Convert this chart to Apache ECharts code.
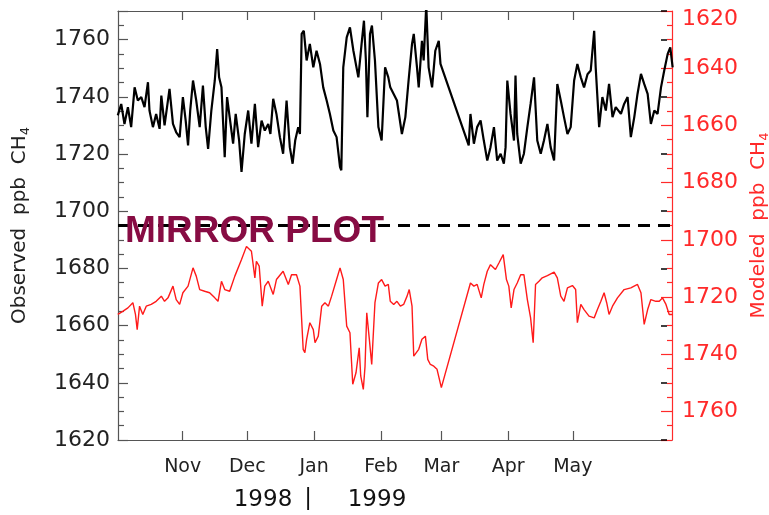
<!DOCTYPE html>
<html>
<head>
<meta charset="utf-8">
<script src="https://cdn.jsdelivr.net/npm/echarts@6/dist/echarts.min.js"></script>
<style>
  body { margin: 0; background: #fff; }
  #mirror-chart { width: 769px; height: 515px; }
</style>
</head>
<body>
<div id="mirror-chart"></div>
<script>
// x = days since 1 Oct 1998
const monthDays = [31, 61, 92, 123, 151, 182, 212]
const monthNames = ['Nov', 'Dec', 'Jan', 'Feb', 'Mar', 'Apr', 'May']

// observed CH4 (left axis, ppb)
const obsDays = [0.9, 2.5, 4.0, 5.6, 7.1, 8.7, 10.2, 11.8, 13.3, 14.9, 15.6, 17.2, 18.7, 20.3, 21.1, 22.6, 24.9, 26.5, 28.0, 29.6,
  31.1, 32.4, 33.5, 34.5, 35.8, 37.3, 38.9, 40.4, 41.7, 42.8, 44.3, 45.9, 47.0, 47.9, 49.0, 50.5, 51.6, 52.8, 54.4, 55.6,
  57.2, 58.3, 59.8, 61.4, 62.9, 64.5, 66.0, 67.6, 69.1, 70.7, 71.7, 73.0, 74.5, 76.1, 77.6, 79.2, 80.7, 82.0, 83.2, 84.6,
  85.4, 86.2, 87.2, 88.5, 90.0, 91.6, 93.1, 94.7, 96.2, 97.8, 99.3, 100.9, 102.4, 104.0, 104.6, 105.5, 107.1, 108.6, 110.2, 112.5,
  114.0, 115.1, 116.0, 116.7, 117.9, 118.8, 120.2, 121.8, 123.3, 124.9, 126.4, 127.3, 130.4, 132.7, 134.3, 135.8, 137.4, 138.2, 139.7, 140.5,
  142.0, 142.8, 144.0, 145.1, 146.7, 148.2, 149.8, 150.6, 163.7, 164.5, 166.1, 167.6, 169.2, 170.7, 172.3, 173.8, 175.4, 176.9, 178.5, 180.0,
  180.8, 181.6, 183.1, 184.7, 185.4, 186.2, 187.8, 189.3, 190.9, 192.4, 194.0, 195.5, 197.1, 198.6, 200.2, 201.7, 203.3, 204.8, 206.4, 207.9,
  209.5, 211.0, 212.6, 214.1, 215.7, 217.2, 218.8, 220.3, 221.9, 222.6, 224.2, 225.7, 227.3, 228.8, 230.4, 231.9, 234.3, 235.8, 237.4, 238.9,
  240.5, 242.0, 243.6, 245.1, 246.7, 248.2, 249.8, 251.3, 252.9, 254.4, 256.0, 257.2, 258.3]
const obsPpb = [1733.5, 1737.5, 1730.5, 1736.4, 1729.4, 1743.3, 1738.7, 1739.9, 1736.4, 1745.1, 1735.2, 1729.4, 1734.0, 1728.8, 1740.4, 1730.0, 1742.8, 1730.5, 1727.6, 1725.9,
  1739.9, 1731.7, 1723.0, 1735.2, 1745.7, 1738.7, 1729.4, 1743.9, 1729.4, 1721.8, 1735.2, 1745.7, 1756.7, 1746.8, 1743.3, 1718.9, 1739.9, 1732.9, 1723.6, 1734.0,
  1724.7, 1713.7, 1727.0, 1735.2, 1723.6, 1737.5, 1722.4, 1731.7, 1728.2, 1730.5, 1727.0, 1739.3, 1734.0, 1725.9, 1720.1, 1738.7, 1722.4, 1716.6, 1724.7, 1729.4,
  1727.0, 1762.0, 1763.1, 1752.7, 1758.5, 1750.3, 1756.1, 1751.5, 1743.3, 1738.7, 1734.0, 1728.2, 1725.9, 1715.4, 1714.3, 1750.3, 1760.8, 1764.3, 1756.1, 1746.8,
  1758.5, 1766.6, 1752.7, 1732.9, 1762.0, 1764.9, 1752.7, 1729.4, 1724.7, 1750.3, 1746.8, 1743.3, 1738.7, 1727.0, 1732.9, 1745.7, 1758.5, 1762.0, 1750.3, 1743.3,
  1759.6, 1752.7, 1772.0, 1750.3, 1743.3, 1756.1, 1759.6, 1751.5, 1723.0, 1734.0, 1723.6, 1729.4, 1731.7, 1724.7, 1717.7, 1722.4, 1729.4, 1717.7, 1720.1, 1716.6,
  1722.4, 1745.7, 1734.0, 1724.7, 1747.4, 1727.0, 1716.6, 1720.1, 1729.4, 1737.5, 1746.8, 1724.7, 1720.1, 1724.7, 1730.5, 1722.4, 1717.7, 1744.5, 1738.7, 1732.9,
  1727.0, 1729.4, 1745.7, 1751.5, 1746.8, 1743.3, 1747.9, 1749.2, 1763.1, 1750.3, 1729.4, 1739.9, 1735.2, 1744.5, 1732.9, 1736.4, 1734.0, 1737.5, 1739.9, 1725.9,
  1732.9, 1741.0, 1748.0, 1744.5, 1741.0, 1730.5, 1735.2, 1734.0, 1743.3, 1749.2, 1755.0, 1757.3, 1750.3]

// modeled CH4 (right axis, inverted, ppb)
const modDays = [0.9, 3.2, 5.6, 7.9, 9.1, 9.9, 11.0, 12.5, 14.1, 16.4, 18.7, 21.1, 22.6, 24.2, 26.5, 28.0, 29.6, 31.1, 33.5, 35.8,
  37.3, 38.9, 41.2, 43.5, 45.9, 47.4, 49.0, 50.5, 52.8, 55.2, 58.3, 60.6, 62.9, 64.5, 65.2, 66.5, 67.9, 69.1, 70.7, 73.0,
  74.5, 77.6, 80.0, 81.5, 83.8, 85.4, 86.9, 87.7, 88.5, 90.0, 91.6, 92.4, 93.9, 95.5, 97.0, 98.6, 100.1, 102.4, 104.0, 105.5,
  107.1, 108.6, 109.9, 111.4, 112.9, 113.6, 114.8, 115.6, 116.4, 117.6, 118.7, 120.2, 121.8, 123.3, 124.9, 126.4, 127.3, 128.9, 130.4, 132.0,
  133.5, 135.1, 136.1, 137.4, 138.2, 138.9, 140.5, 142.0, 143.6, 144.7, 145.9, 147.5, 149.0, 151.0, 164.5, 166.1, 167.6, 169.5, 170.7, 172.3,
  173.8, 176.1, 177.7, 179.7, 181.2, 182.3, 183.4, 184.7, 186.2, 187.8, 189.3, 190.9, 192.4, 193.6, 194.7, 196.3, 197.8, 200.2, 203.3, 204.8,
  206.4, 207.9, 209.5, 211.8, 213.3, 214.1, 215.7, 217.2, 219.5, 221.9, 223.4, 225.0, 226.5, 227.7, 228.8, 230.4, 232.7, 235.8, 238.9, 242.0,
  243.6, 245.1, 246.7, 248.2, 250.5, 252.1, 253.6, 255.2, 256.7, 258.3]
const modPpb = [1726.1, 1725.0, 1723.8, 1722.0, 1726.1, 1731.4, 1723.2, 1726.1, 1723.2, 1722.6, 1721.5, 1719.7, 1721.5, 1720.3, 1716.2, 1720.9, 1722.6, 1718.5, 1716.2, 1709.8,
  1712.7, 1717.4, 1718.0, 1718.5, 1720.3, 1721.5, 1714.5, 1717.4, 1718.0, 1712.7, 1706.9, 1702.3, 1704.0, 1713.3, 1707.5, 1709.2, 1723.2, 1716.2, 1714.5, 1719.1,
  1713.9, 1711.0, 1715.6, 1712.2, 1712.2, 1716.2, 1738.3, 1739.5, 1734.8, 1729.0, 1731.4, 1736.0, 1733.7, 1723.2, 1722.0, 1723.2, 1719.7, 1713.9, 1709.8, 1713.9,
  1730.2, 1732.5, 1750.5, 1746.5, 1737.8, 1747.6, 1752.3, 1744.2, 1725.5, 1734.8, 1743.6, 1722.0, 1715.1, 1713.9, 1716.2, 1715.6, 1721.5, 1722.6, 1721.5, 1723.2,
  1722.6, 1719.7, 1717.4, 1723.2, 1740.7, 1741.2, 1738.3, 1734.8, 1733.7, 1741.8, 1743.6, 1744.2, 1745.3, 1751.7, 1715.1, 1716.2, 1715.6, 1720.3, 1715.6, 1711.0,
  1708.7, 1710.4, 1708.1, 1705.2, 1713.9, 1716.2, 1723.8, 1717.4, 1715.1, 1712.2, 1712.2, 1720.9, 1727.3, 1736.0, 1715.6, 1714.5, 1713.3, 1712.5, 1711.3, 1713.3,
  1719.7, 1721.5, 1716.8, 1716.0, 1717.4, 1729.0, 1722.6, 1724.4, 1726.7, 1727.3, 1724.4, 1721.5, 1718.5, 1722.0, 1726.1, 1723.2, 1720.3, 1717.4, 1716.8, 1715.6,
  1718.5, 1729.6, 1724.4, 1720.9, 1721.5, 1721.5, 1720.3, 1722.6, 1726.1, 1726.1]

const mirrorLevel = 1695

const font = 'DejaVu Sans'
const axisGray = '#555'
const red = '#ff2a2a'

function pairs(xs, ys) {
  const a = []
  for (let i = 0; i < xs.length; i++) {
    a.push([xs[i], ys[i]])
  }
  return a
}

const nameRich = {
  sub: { fontSize: 13, fontFamily: font, padding: [11, 0, 0, 0] }
}

const options = {
  animation: false,
  backgroundColor: '#fff',
  grid: { left: 118, right: 97, top: 11, bottom: 75, outerBoundsMode: 'none', containLabel: false },
  xAxis: [{
    type: 'value',
    position: 'bottom',
    min: 1,
    max: 258,
    splitLine: { show: false },
    axisLine: { lineStyle: { color: axisGray, width: 1.2 } },
    axisTick: { inside: true, length: 9, customValues: monthDays, lineStyle: { color: axisGray, width: 1.2 } },
    axisLabel: {
      customValues: monthDays,
      formatter: function (v) { return monthNames[monthDays.indexOf(v)] },
      fontFamily: font, fontSize: 19, color: '#222', margin: 18
    }
  }, {
    type: 'value',
    position: 'top',
    min: 1,
    max: 258,
    splitLine: { show: false },
    axisLine: { lineStyle: { color: axisGray, width: 1.2 } },
    axisTick: { inside: true, length: 9, customValues: monthDays, lineStyle: { color: axisGray, width: 1.2 } },
    axisLabel: { show: false }
  }],
  yAxis: [{
    type: 'value',
    position: 'left',
    min: 1620,
    max: 1770,
    interval: 20,
    splitLine: { show: false },
    axisLine: { show: true, lineStyle: { color: axisGray, width: 1.2 } },
    axisTick: { inside: true, length: 10, lineStyle: { color: axisGray, width: 1.2 } },
    minorTick: { show: true, splitNumber: 4, length: 6, lineStyle: { color: axisGray, width: 1.2 } },
    axisLabel: {
      fontFamily: font, fontSize: 22, color: '#222', margin: 8, showMaxLabel: false,
      formatter: function (v) { return String(v) }
    },
    name: 'Observed  ppb  CH{sub|4}',
    nameLocation: 'middle',
    nameRotate: 90,
    nameGap: 86,
    nameTextStyle: { fontFamily: font, fontSize: 20, color: '#222', rich: nameRich }
  }, {
    type: 'value',
    position: 'right',
    inverse: true,
    min: 1620,
    max: 1770,
    interval: 20,
    z: 2,
    splitLine: { show: false },
    axisLine: { show: true, lineStyle: { color: red, width: 1.2 } },
    axisTick: { inside: true, length: 11, lineStyle: { color: red, width: 1.2 } },
    minorTick: { show: true, splitNumber: 4, length: 5, lineStyle: { color: red, width: 1.2 } },
    axisLabel: {
      fontFamily: font, fontSize: 22, color: red, margin: 10, showMaxLabel: false,
      // the top label sits just inside the frame
      formatter: function (v) { return v === 1620 ? '{top|' + v + '}' : String(v) },
      rich: { top: { fontFamily: font, fontSize: 22, color: red, padding: [16, 0, 0, 0] } }
    },
    name: 'Modeled  ppb  CH{sub|4}',
    nameLocation: 'middle',
    nameRotate: 90,
    nameGap: 71,
    nameTextStyle: { fontFamily: font, fontSize: 20, color: red, rich: nameRich }
  }, {
    // black ticks of the observed scale repeated on the right side
    type: 'value',
    position: 'right',
    offset: -5,
    min: 1620,
    max: 1770,
    interval: 20,
    z: 3,
    splitLine: { show: false },
    axisLine: { show: false },
    axisTick: { inside: true, length: 6, lineStyle: { color: '#000', width: 1.5 } },
    axisLabel: { show: false }
  }],
  graphic: [
    { type: 'text', left: 125, top: 213, z: 100,
      style: { text: 'MIRROR PLOT', font: 'bold 37px "Liberation Sans"', fill: '#870c43' } },
    { type: 'text', x: 263, y: 500, z: 100,
      style: { text: '1998', font: '23px "DejaVu Sans"', fill: '#111', align: 'center', verticalAlign: 'middle' } },
    { type: 'text', x: 308, y: 499, z: 100,
      style: { text: '|', font: '23px "DejaVu Sans"', fill: '#111', align: 'center', verticalAlign: 'middle' } },
    { type: 'text', x: 377, y: 500, z: 100,
      style: { text: '1999', font: '23px "DejaVu Sans"', fill: '#111', align: 'center', verticalAlign: 'middle' } }
  ],
  series: [{
    name: 'Observed',
    type: 'line',
    xAxisIndex: 0,
    yAxisIndex: 0,
    data: pairs(obsDays, obsPpb),
    showSymbol: false,
    lineStyle: { color: '#000', width: 2.2 },
    markLine: {
      silent: true,
      symbol: 'none',
      label: { show: false },
      lineStyle: { color: '#000', type: [12, 8], width: 3 },
      data: [{ yAxis: mirrorLevel }]
    }
  }, {
    name: 'Modeled',
    type: 'line',
    xAxisIndex: 0,
    yAxisIndex: 1,
    data: pairs(modDays, modPpb),
    showSymbol: false,
    lineStyle: { color: '#ff1a1a', width: 1.4 }
  }]
}

const myChart = echarts.init(document.getElementById('mirror-chart'))
myChart.setOption(options)
</script>
</body>
</html>
